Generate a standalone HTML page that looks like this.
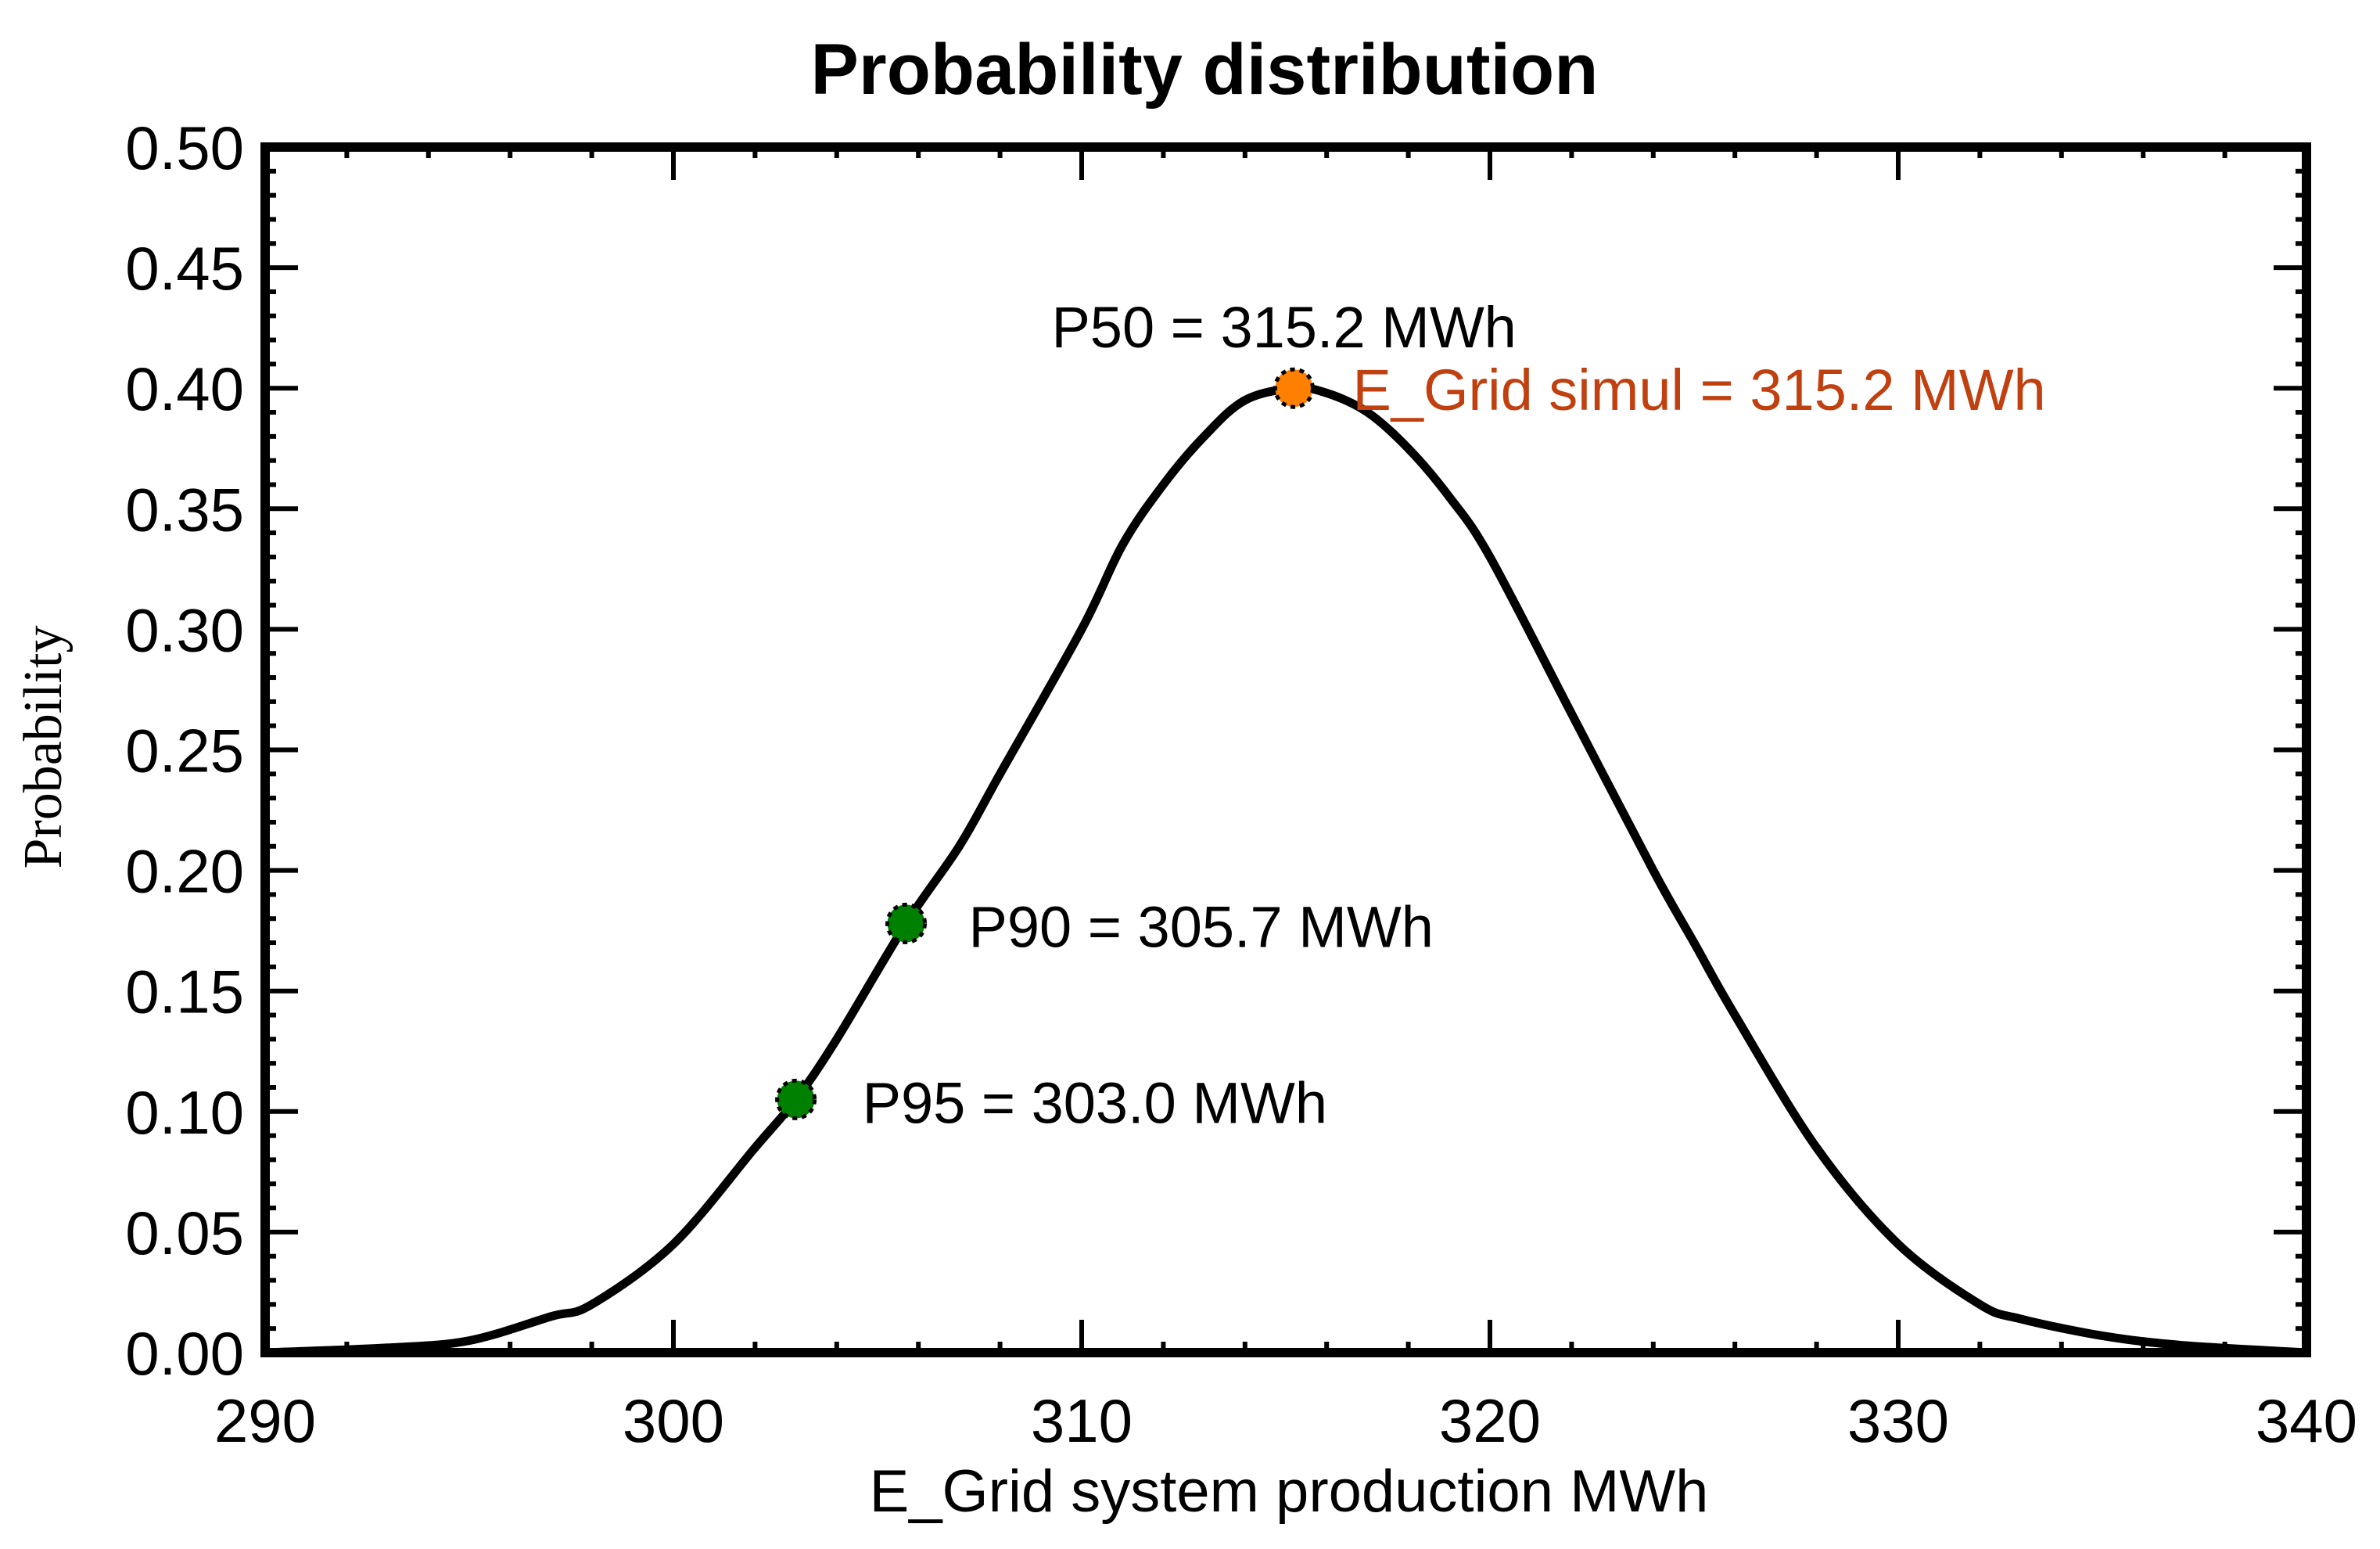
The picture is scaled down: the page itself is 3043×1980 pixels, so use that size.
<!DOCTYPE html>
<html><head><meta charset="utf-8"><style>
html,body{margin:0;padding:0;background:#fff;}
svg{display:block;}
</style></head><body>
<svg id="chart" width="3043" height="1980" viewBox="0 0 3043 1980" xmlns="http://www.w3.org/2000/svg">
<rect width="3043" height="1980" fill="#fff"/>
<text x="1540" y="120" text-anchor="middle" font-family="Liberation Sans, sans-serif" font-weight="bold" font-size="92" fill="#000">Probability distribution</text>
<text transform="translate(78,955) rotate(-90)" text-anchor="middle" font-family="Liberation Serif, serif" font-size="70" fill="#000">Probability</text>
<text x="1648" y="1932" text-anchor="middle" font-family="Liberation Sans, sans-serif" font-size="76" fill="#000">E_Grid system production MWh</text>
<g id="ticks"></g>
<path id="curve" fill="none" stroke="#000" stroke-width="11" stroke-linejoin="round"/>
<rect x="339" y="188" width="2610" height="1541" fill="none" stroke="#000" stroke-width="12"/>
<g id="marks"></g>
</svg>
<script>
const curveX = [290,293,295,297,298,300,302,303,304,305.7,307,308,310,311,312,313,314,315.2,316,317,318,319,320,322,324,325,326,328,330,332,333,335,337,340];
const curveY = [0.0,0.002,0.005,0.015,0.02,0.045,0.085,0.105,0.13,0.178,0.21,0.24,0.30,0.335,0.36,0.38,0.395,0.40,0.398,0.39,0.375,0.355,0.33,0.265,0.20,0.17,0.14,0.085,0.045,0.02,0.014,0.007,0.003,0.0];
const pointNames = ["P95","P90","P50"];
const pointX = [303.0,305.7,315.2];
const pointY = [0.105,0.178,0.40];
const xTicks = [290,300,310,320,330,340];
const yTicks = [0,0.05,0.10,0.15,0.20,0.25,0.30,0.35,0.40,0.45,0.50];

const L=339,R=2949,T=188,B=1729;
const sx=v=>L+(v-290)/50*(R-L);
const sy=v=>B-(v/0.5)*(B-T);
const NS="http://www.w3.org/2000/svg";
const tg=document.getElementById('ticks');
function line(x1,y1,x2,y2,w){const l=document.createElementNS(NS,'line');l.setAttribute('x1',x1);l.setAttribute('y1',y1);l.setAttribute('x2',x2);l.setAttribute('y2',y2);l.setAttribute('stroke','#000');l.setAttribute('stroke-width',w);


tg.appendChild(l);}
function text(x,y,s,anchor,fill,name,size){const t=document.createElementNS(NS,'text');t.setAttribute('x',x);t.setAttribute('y',y);t.setAttribute('text-anchor',anchor);t.setAttribute('font-family','Liberation Sans, sans-serif');t.setAttribute('font-size',size||78);t.setAttribute('fill',fill||'#000');t.textContent=s;


return t;}
for(let v=0;v<=50;v++){const y=sy(v/100);const major=v%5===0;const len=major?42:14;line(L,y,L+len,y,6);line(R,y,R-len,y,6);}
yTicks.forEach(v=>{tg.appendChild(text(312,sy(v)+28,v.toFixed(2),'end','#000','y-tick-label'));});
for(let v=290;v<=340;v+=2){const x=sx(v);const major=(v%10===0);const len=major?42:14;line(x,B,x,B-len,6);line(x,T,x,T+len,6);}
xTicks.forEach(v=>{tg.appendChild(text(sx(v),1843,String(v),'middle','#000','x-tick-label'));});
// smooth curve (Catmull-Rom)
const P=curveX.map((x,i)=>[sx(x),sy(curveY[i])]);
let d='M'+P[0][0].toFixed(1)+','+P[0][1].toFixed(1);
for(let i=0;i<P.length-1;i++){const p0=P[Math.max(0,i-1)],p1=P[i],p2=P[i+1],p3=P[Math.min(P.length-1,i+2)];
const c1=[p1[0]+(p2[0]-p0[0])/6,p1[1]+(p2[1]-p0[1])/6],c2=[p2[0]-(p3[0]-p1[0])/6,p2[1]-(p3[1]-p1[1])/6];
d+='C'+c1[0].toFixed(1)+','+c1[1].toFixed(1)+' '+c2[0].toFixed(1)+','+c2[1].toFixed(1)+' '+p2[0].toFixed(1)+','+p2[1].toFixed(1);}
document.getElementById('curve').setAttribute('d',d);
const mg=document.getElementById('marks');
pointX.forEach((x,i)=>{const c=document.createElementNS(NS,'circle');c.setAttribute('cx',sx(x));c.setAttribute('cy',sy(pointY[i]));c.setAttribute('r',24);
c.setAttribute('fill',pointNames[i]==='P50'?'#ff8000':'#008000');c.setAttribute('stroke','#000');c.setAttribute('stroke-width','5');c.setAttribute('stroke-dasharray','6 6');


mg.appendChild(c);});
const lbl=(x)=>x.toFixed(1)+' MWh';
mg.appendChild(text(sx(pointX[0])+85,sy(pointY[0])+30,'P95 = '+lbl(pointX[0]),'start','#000','label-p95',74));
mg.appendChild(text(sx(pointX[1])+80,sy(pointY[1])+30,'P90 = '+lbl(pointX[1]),'start','#000','label-p90',74));
mg.appendChild(text(sx(pointX[2])-310,sy(pointY[2])-52,'P50 = '+lbl(pointX[2]),'start','#000','label-p50',74));
mg.appendChild(text(sx(pointX[2])+75,sy(pointY[2])+28,'E_Grid simul = '+lbl(pointX[2]),'start','#c04010','label-egrid-simul',74));
</script>
</body></html>
